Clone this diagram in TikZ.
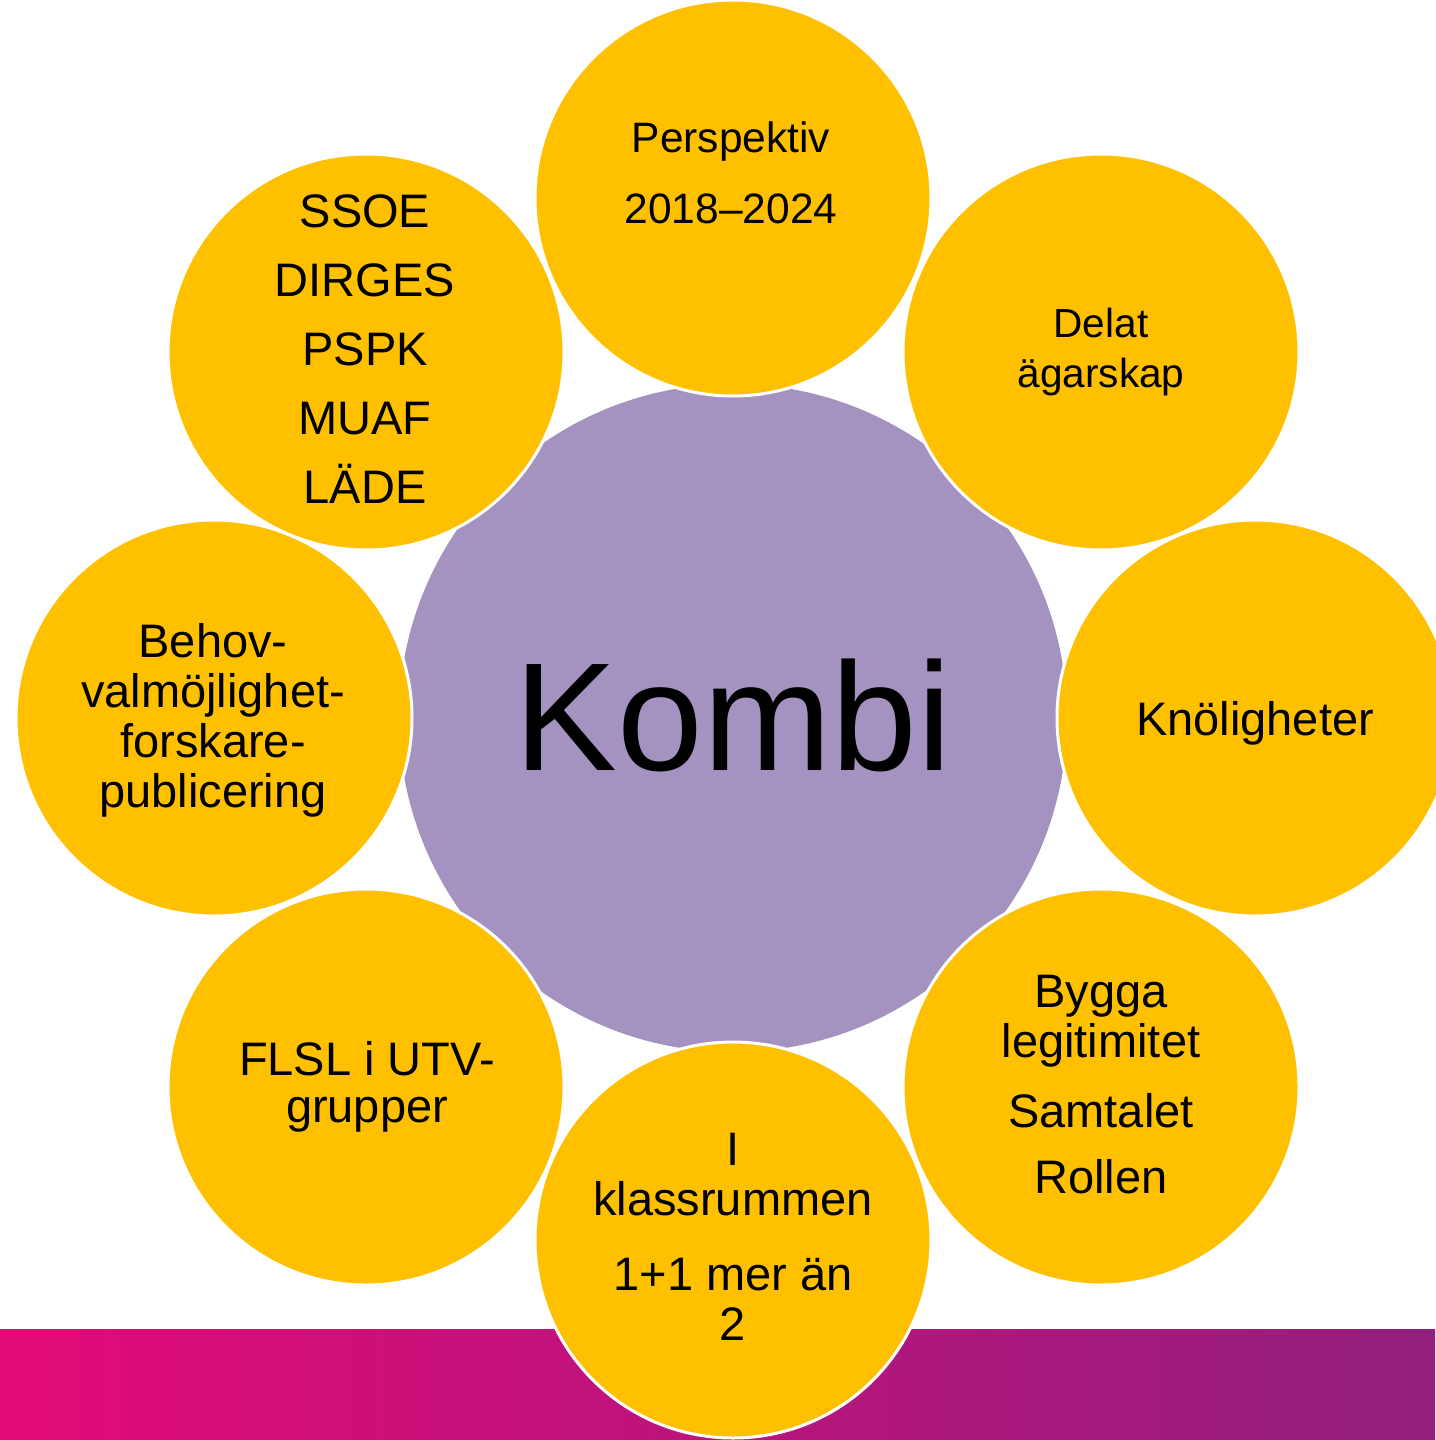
\documentclass[tikz,border=0pt]{standalone}
\usepackage{fontspec}
\setmainfont{Liberation Sans}
\usepackage{tikz}
\definecolor{bubblefill}{HTML}{FFC000}
\definecolor{hubfill}{HTML}{A492C0}
\definecolor{barleft}{HTML}{E20A79}
\definecolor{barright}{HTML}{921F7E}

\begin{document}
\begin{tikzpicture}[x=1pt, y=-1pt,
    bubble/.style={circle, fill=bubblefill, draw=white, line width=3pt, minimum size=396pt, inner sep=0pt},
    hub/.style={circle, fill=hubfill, minimum size=668pt, inner sep=0pt},
    words/.style={align=center, anchor=base, inner sep=0pt, font=\fontsize{47}{50}\selectfont}]
          \useasboundingbox (0, 0) rectangle (1435, 1440);
          \shade [left color=barleft, right color=barright] (0, 1329) rectangle (1435, 1440);
          \node [hub] (kombi) at (733, 718) {};
          \node [bubble] (persp) at (733, 198) {};
          \node [bubble] (delat) at (1101, 352) {};
          \node [bubble] (knol) at (1255, 718) {};
          \node [bubble] (bygga) at (1101, 1087) {};
          \node [bubble] (klass) at (733, 1240) {};
          \node [bubble] (flsl) at (366, 1087) {};
          \node [bubble] (behov) at (214, 718) {};
          \node [bubble] (ssoe) at (366, 352) {};
          \node [words, font=\fontsize{154}{160}\selectfont] (kombitext) at (733, 770) {Kombi};
          \node [words, font=\fontsize{42.5}{50}\selectfont] (persptext) at (731, 223) {Perspektiv\\[21pt]2018–2024};
          \node [words, font=\fontsize{40.6}{50}\selectfont] (delattext) at (1101, 387) {Delat\\ägarskap};
          \node [words] (knoltext) at (1255, 735) {Knöligheter};
          \node [words] (byggatext) at (1101, 1193) {Bygga\\legitimitet\\[20pt]Samtalet\\[16pt]Rollen};
          \node [words] (klasstext) at (733, 1340) {I\\klassrummen\\[25pt]1+1 mer än\\2};
          \node [words, font=\fontsize{47}{47}\selectfont] (flsltext) at (367, 1122) {FLSL i UTV-\\grupper};
          \node [words] (behovtext) at (213, 807) {Behov-\\valmöjlighet-\\forskare-\\publicering};
          \node [words, font=\fontsize{47}{69}\selectfont] (ssoetext) at (365, 503) {SSOE\\DIRGES\\PSPK\\MUAF\\LÄDE};
\end{tikzpicture}
\end{document}
